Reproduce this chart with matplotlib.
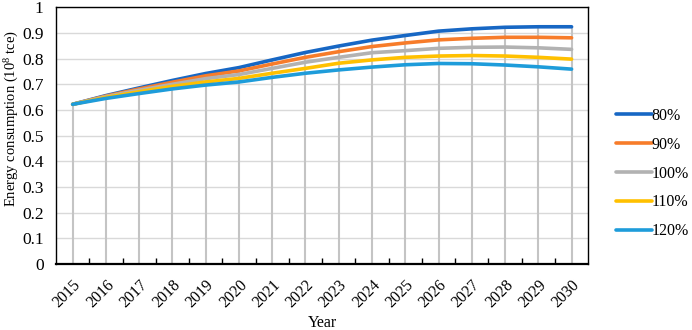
import matplotlib
matplotlib.use("Agg")
import matplotlib.pyplot as plt
import numpy as np

plt.rcParams["font.family"] = ["Liberation Serif", "DejaVu Serif"]
plt.rcParams["mathtext.fontset"] = "custom"
plt.rcParams["mathtext.rm"] = "Liberation Serif"

years = [str(y) for y in range(2015, 2031)]
labels = ["80%", "90%", "100%", "110%", "120%"]
colors = ["#1767C4", "#F77C2A", "#B2B2B2", "#FFC000", "#1E9CDA"]

s80 = [0.622, 0.656, 0.686, 0.715, 0.742, 0.765, 0.795, 0.824, 0.849, 0.872, 0.890, 0.907, 0.916, 0.922, 0.924, 0.924]
s90 = [0.622, 0.654, 0.682, 0.708, 0.733, 0.752, 0.779, 0.805, 0.827, 0.847, 0.861, 0.873, 0.879, 0.883, 0.883, 0.881]
s100 = [0.622, 0.652, 0.677, 0.700, 0.722, 0.738, 0.762, 0.786, 0.805, 0.823, 0.831, 0.840, 0.844, 0.845, 0.842, 0.836]
s110 = [0.622, 0.649, 0.671, 0.692, 0.709, 0.723, 0.743, 0.762, 0.782, 0.795, 0.805, 0.810, 0.812, 0.810, 0.805, 0.798]
s120 = [0.622, 0.645, 0.664, 0.682, 0.697, 0.709, 0.727, 0.743, 0.756, 0.767, 0.776, 0.781, 0.780, 0.775, 0.768, 0.759]
series = [s80, s90, s100, s110, s120]

fig = plt.figure(figsize=(6.92, 3.30), dpi=100)
ax = fig.add_axes([0.081, 0.2, 0.769, 0.778])

x = np.arange(len(years))

# drop lines from the axis up to the highest series
top = np.max(np.array(series), axis=0)
ax.vlines(x, 0, top, color="#C4C4C4", linewidth=1.5, zorder=2)

for vals, lab, col in zip(series, labels, colors):
    ax.plot(x, vals, color=col, linewidth=2.6, label=lab, solid_capstyle="round", zorder=3)

ax.set_xlim(-0.5, len(years) - 0.5)
ax.set_ylim(0, 1)
ax.set_yticks(np.arange(0, 1.01, 0.1))
ax.set_yticklabels(["0", "0.1", "0.2", "0.3", "0.4", "0.5", "0.6", "0.7", "0.8", "0.9", "1"])
ax.yaxis.grid(True, color="#D9D9D9", linewidth=1.0, zorder=0)
ax.set_axisbelow(True)

ax.set_xticks(x)
ax.set_xticklabels(years, rotation=45, ha="right", va="top", rotation_mode="anchor")
ax.set_xticks(np.arange(0.5, len(years) - 1, 1.0), minor=True)
ax.tick_params(axis="x", which="major", length=0, pad=9, labelsize=11.5)
ax.tick_params(axis="x", which="minor", direction="in", length=4, width=1.0)
ax.tick_params(axis="y", length=0, pad=9, labelsize=12.5)

for sp in ax.spines.values():
    sp.set_color("black")
    sp.set_linewidth(1.0)
ax.spines["bottom"].set_linewidth(1.6)

# y label sits a bit above the axis centre in the original
fig.text(12 / 692, 1 - 118 / 330, r"Energy consumption (10$\mathregular{^{8}}$ tce)",
         rotation=90, ha="center", va="center", fontsize=10.5)
ax.set_xlabel("Year", fontsize=11.5, labelpad=3)

ax.legend(loc="center left", bbox_to_anchor=(1.04, 0.352), frameon=False,
          handlelength=2.25, handletextpad=0.0, labelspacing=0.8, fontsize=11.5,
          borderaxespad=0)

fig.savefig("out.png", dpi=100)
